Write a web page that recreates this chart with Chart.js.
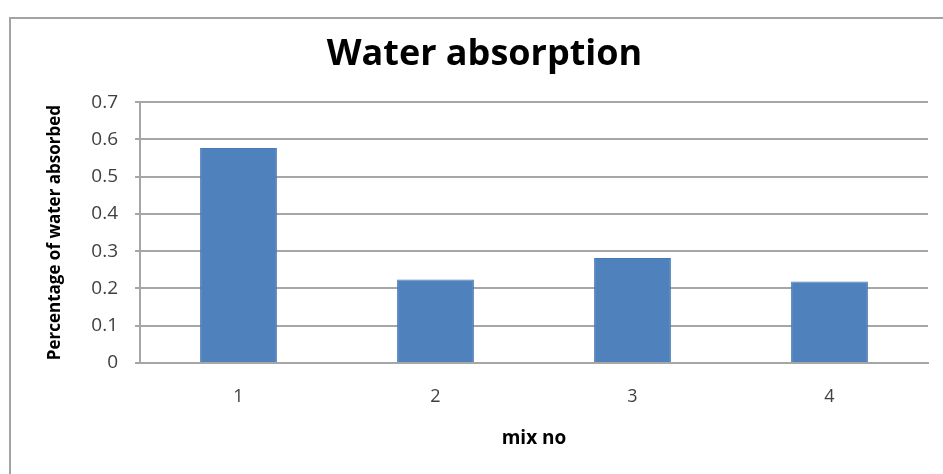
<!DOCTYPE html>
<html>
<head>
<meta charset="utf-8">
<script src="https://cdn.jsdelivr.net/npm/chart.js@4.4.1/dist/chart.umd.min.js"></script>
<style>
  html, body { margin: 0; padding: 0; background: #fff; overflow: hidden; }
  .frame {
    position: absolute;
    left: 9px;
    top: 17px;
    width: 952px;
    height: 470px;
    border: 2px solid #a3a3a3;
    background: #fff;
  }
</style>
</head>
<body>
<div class="frame">
  <canvas id="absorptionChart" width="952" height="455"></canvas>
</div>
<script>
// Chart data
const mixNo = ['1', '2', '3', '4'];
const waterAbsorbed = [0.577, 0.224, 0.282, 0.219];
const yMin = 0;
const yMax = 0.7;
const yStep = 0.1;

const fontFamily = "'Open Sans', 'Liberation Sans', sans-serif";

document.addEventListener('DOMContentLoaded', function() {
  const ctx = document.getElementById('absorptionChart');

  new Chart(ctx, {
    type: 'bar',
    data: {
      labels: mixNo,
      datasets: [{
        label: 'Water absorption',
        data: waterAbsorbed,
        backgroundColor: '#4f81bd',
        borderColor: '#4a7ab5',
        borderWidth: 1,
        categoryPercentage: 1,
        barPercentage: 0.39
      }]
    },
    options: {
      responsive: false,
      animation: false,
      layout: {
        padding: { left: 30, right: 35, top: 0, bottom: 0 }
      },
      plugins: {
        legend: { display: false },
        tooltip: { enabled: false },
        title: {
          display: true,
          text: 'Water absorption',
          color: '#000',
          font: { family: fontFamily, size: 36, weight: 'bold' },
          padding: { top: 14, bottom: 26 }
        }
      },
      scales: {
        x: {
          grid: { display: false },
          border: { display: true, color: '#a6a6a6', width: 2 },
          ticks: {
            color: '#404040',
            font: { family: fontFamily, size: 18 },
            padding: 15
          },
          title: {
            display: true,
            text: 'mix no',
            color: '#000',
            font: { family: fontFamily, size: 19, weight: 'bold' },
            padding: { top: 0, bottom: 24 }
          },
          afterFit: function(scale) {
            scale.height = 111;
          }
        },
        y: {
          min: yMin,
          max: yMax,
          grid: {
            color: '#a6a6a6',
            lineWidth: 2,
            tickLength: 5
          },
          border: { display: true, color: '#a6a6a6', width: 2 },
          ticks: {
            stepSize: yStep,
            color: '#404040',
            font: { family: fontFamily, size: 19 },
            padding: 17,
            callback: function(value) {
              return value === 0 ? '0' : value.toFixed(1);
            }
          },
          title: {
            display: true,
            text: 'Percentage of water absorbed',
            color: '#000',
            font: { family: fontFamily, size: 17, weight: 'bold' },
            padding: { top: 4, bottom: 0 }
          },
          afterFit: function(scale) {
            scale.width = 99;
          }
        }
      }
    }
  });
});
</script>
</body>
</html>
